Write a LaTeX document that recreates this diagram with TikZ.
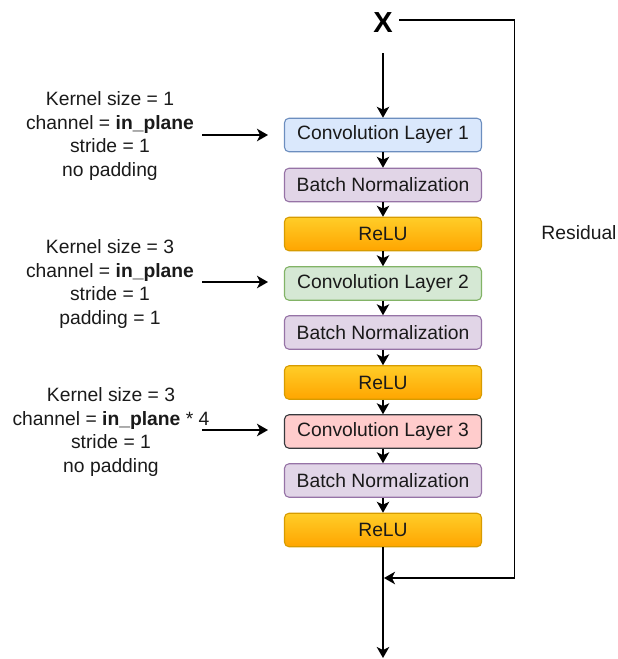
\documentclass[tikz,border=0pt]{standalone}
\usepackage{fontspec}
\setmainfont{Liberation Sans}
\usetikzlibrary{arrows.meta}
\definecolor{txt}{HTML}{1A1A1A}
\begin{document}
\begin{tikzpicture}[x=1pt,y=-1pt,
  font=\fontsize{19.3}{23.7}\selectfont,
  layer/.style={draw, line width=1.1pt, rounded corners=4.5pt, minimum width=197pt,
    minimum height=33.5pt, inner sep=0pt, text=txt},
  convA/.style={layer, fill={rgb,255:red,218;green,232;blue,252}, draw={rgb,255:red,108;green,142;blue,191}},
  convB/.style={layer, fill={rgb,255:red,213;green,232;blue,212}, draw={rgb,255:red,130;green,179;blue,102}},
  convC/.style={layer, fill={rgb,255:red,255;green,204;blue,204}, draw={rgb,255:red,54;green,57;blue,61}},
  bnorm/.style={layer, fill={rgb,255:red,225;green,213;blue,231}, draw={rgb,255:red,150;green,115;blue,166}},
  relu/.style={layer, top color={rgb,255:red,255;green,205;blue,40}, bottom color={rgb,255:red,255;green,165;blue,0}, draw={rgb,255:red,215;green,155;blue,0}},
  params/.style={align=center, text=txt, inner sep=0pt},
  link/.style={line width=1.3pt, -{Stealth[length=11pt, width=12.5pt, inset=3pt]}},
  wire/.style={line width=1.3pt}
]
\useasboundingbox (0,0) rectangle (618,659);

% input
\node[font=\fontsize{29}{30}\selectfont\bfseries, inner sep=0pt] (x) at (383,23) {X};
\coordinate (xin) at (383,53);
\coordinate (xres) at (399,20);

% bottleneck stack
\node[convA] (c1) at (383,135) {Convolution Layer 1};
\node[bnorm] (b1) at (383,185) {Batch Normalization};
\node[relu]  (r1) at (383,234) {ReLU};
\node[convB] (c2) at (383,283.5) {Convolution Layer 2};
\node[bnorm] (b2) at (383,332.5) {Batch Normalization};
\node[relu]  (r2) at (383,382.5) {ReLU};
\node[convC] (c3) at (383,431.5) {Convolution Layer 3};
\node[bnorm] (b3) at (383,480.5) {Batch Normalization};
\node[relu]  (r3) at (383,530) {ReLU};

\draw[link] (xin) -- (c1.north);
\draw[link] (c1) -- (b1);
\draw[link] (b1) -- (r1);
\draw[link] (r1) -- (c2);
\draw[link] (c2) -- (b2);
\draw[link] (b2) -- (r2);
\draw[link] (r2) -- (c3);
\draw[link] (c3) -- (b3);
\draw[link] (b3) -- (r3);

% residual path
\coordinate (join) at (384,578);
\coordinate (out) at (383,658);
\coordinate (rtop) at (514.5,20);
\coordinate (rbot) at (514.5,578);
\draw[link] (r3.south) -- (out);
\draw[link] (xres) -- (rtop) -- (rbot) -- (join);
\node[text=txt] (res) at (579,233) {Residual};

% layer parameters
\node[params] (p1) at (110,136) {Kernel size = 1\\channel = \textbf{in\_plane}\\stride = 1\\no padding};
\node[params] (p2) at (110,284) {Kernel size = 3\\channel = \textbf{in\_plane}\\stride = 1\\padding = 1};
\node[params] (p3) at (111,432) {Kernel size = 3\\channel = \textbf{in\_plane} * 4\\stride = 1\\no padding};

\coordinate (a1) at (202,135);
\coordinate (a2) at (202,282);
\coordinate (a3) at (202,430);
\coordinate (t1) at (268,135);
\coordinate (t2) at (268,282);
\coordinate (t3) at (268,430);
\draw[link] (a1) -- (t1);
\draw[link] (a2) -- (t2);
\draw[link] (a3) -- (t3);
\end{tikzpicture}
\end{document}
